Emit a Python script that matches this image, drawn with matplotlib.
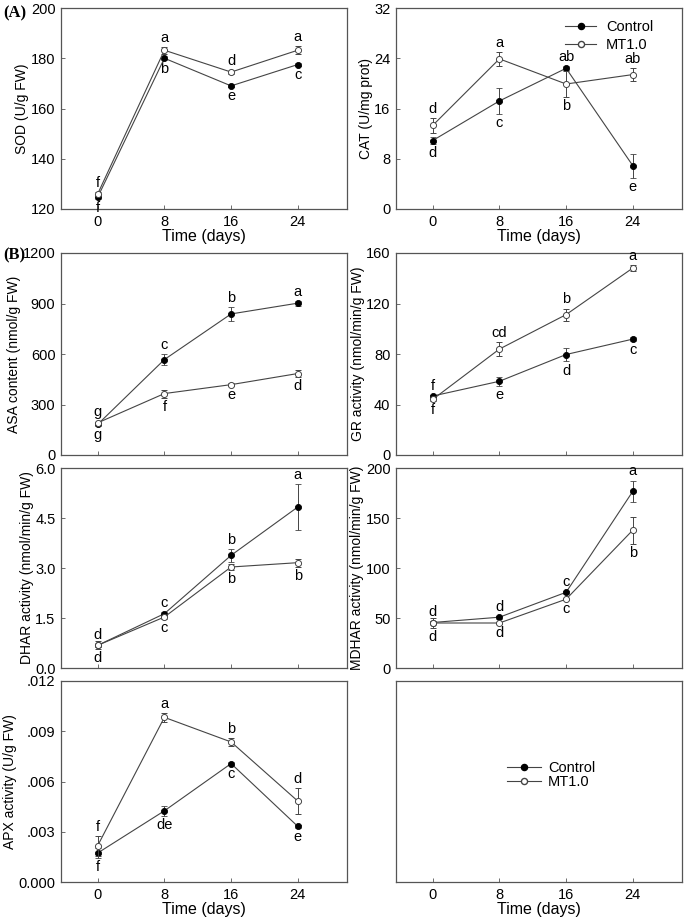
import matplotlib
matplotlib.use("Agg")
import matplotlib.pyplot as plt
from matplotlib.lines import Line2D

plt.rcParams['font.family'] = ['Liberation Sans', 'DejaVu Sans']

days = [0, 8, 16, 24]
xticks = [0, 8, 16, 24]

# SOD
sod_ctrl = [124.7, 180.0, 169.0, 177.5]
sod_ctrl_err = [0.8, 0.8, 0.6, 0.6]
sod_mt = [126.0, 183.2, 174.5, 183.2]
sod_mt_err = [0.8, 1.4, 0.6, 1.5]
sod_ctrl_let = ['f', 'b', 'e', 'c']
sod_mt_let = ['f', 'a', 'd', 'a']

# CAT
cat_ctrl = [10.9, 17.2, 22.4, 6.9]
cat_ctrl_err = [0.6, 2.0, 0.3, 1.9]
cat_mt = [13.3, 23.9, 19.9, 21.4]
cat_mt_err = [1.2, 1.1, 2.0, 1.1]
cat_ctrl_let = ['d', 'c', 'ab', 'e']
cat_mt_let = ['d', 'a', 'b', 'ab']

# ASA
asa_ctrl = [182, 567, 838, 902]
asa_ctrl_err = [8, 32, 39, 14]
asa_mt = [191, 365, 418, 484]
asa_mt_err = [8, 24, 8, 20]
asa_ctrl_let = ['g', 'c', 'b', 'a']
asa_mt_let = ['g', 'f', 'e', 'd']

# GR
gr_ctrl = [46.7, 58.4, 79.6, 91.8]
gr_ctrl_err = [1.0, 3.5, 5.5, 1.5]
gr_mt = [44.0, 83.9, 111.2, 148.1]
gr_mt_err = [1.0, 5.3, 4.8, 2.0]
gr_ctrl_let = ['f', 'e', 'd', 'c']
gr_mt_let = ['f', 'cd', 'b', 'a']

# DHAR
dhar_ctrl = [0.68, 1.63, 3.38, 4.83]
dhar_ctrl_err = [0.05, 0.06, 0.2, 0.7]
dhar_mt = [0.68, 1.53, 3.03, 3.16]
dhar_mt_err = [0.12, 0.05, 0.1, 0.12]
dhar_ctrl_let = ['d', 'c', 'b', 'a']
dhar_mt_let = ['d', 'c', 'b', 'b']

# MDHAR
mdhar_ctrl = [45.5, 50.8, 75.7, 176.7]
mdhar_ctrl_err = [1.5, 1.5, 1.5, 10.8]
mdhar_mt = [45.0, 45.0, 68.8, 137.9]
mdhar_mt_err = [5.0, 1.0, 1.0, 13.6]
mdhar_ctrl_let = ['d', 'd', 'c', 'a']
mdhar_mt_let = ['d', 'd', 'c', 'b']

# APX
apx_ctrl = [0.00173, 0.00425, 0.00707, 0.00332]
apx_ctrl_err = [0.0003, 0.0003, 0.0001, 0.0001]
apx_mt = [0.00217, 0.00983, 0.00836, 0.00483]
apx_mt_err = [0.0006, 0.00027, 0.00025, 0.0008]
apx_ctrl_let = ['f', 'de', 'c', 'e']
apx_mt_let = ['f', 'a', 'b', 'd']

# placement of letters: +1 above, -1 below
place = {
    'sod': ([-1, -1, -1, -1], [1, 1, 1, 1]),
    'cat': ([-1, -1, 1, -1], [1, 1, -1, 1]),
    'asa': ([-1, 1, 1, 1], [1, -1, -1, -1]),
    'gr': ([1, -1, -1, -1], [-1, 1, 1, 1]),
    'dhar': ([1, 1, 1, 1], [-1, -1, -1, -1]),
    'mdhar': ([1, 1, 1, 1], [-1, -1, -1, -1]),
    'apx': ([-1, -1, -1, -1], [1, 1, 1, 1]),
}

W, H = 685, 923
fig = plt.figure(figsize=(W / 100, H / 100), dpi=100)

def ax_at(x0, x1, y0, y1):
    return fig.add_axes([x0 / W, 1 - y1 / H, (x1 - x0) / W, (y1 - y0) / H])

LX = (61, 347)
RX = (396, 682)
rows = [(8, 209), (253, 455), (468, 668), (681, 882)]

spine_c = '#555555'
line_c = '#444444'
FS = 10.5
MS = 4.4

def style(ax, ylim, yticks, ylabels=None, ylabel='', xlabels=True, xlabel=True):
    ax.set_xlim(-4.4, 29.9)
    ax.set_ylim(*ylim)
    ax.set_xticks(xticks)
    ax.set_yticks(yticks)
    if ylabels is not None:
        ax.set_yticklabels(ylabels)
    if not xlabels:
        ax.set_xticklabels([])
    ax.tick_params(direction='in', length=3, width=0.6, colors=spine_c,
                   labelcolor='black', labelsize=FS, pad=4)
    for s in ax.spines.values():
        s.set_color(spine_c)
        s.set_linewidth(0.9)
    if ylabel:
        ax.set_ylabel(ylabel, fontsize=10, labelpad=1)
    if xlabel:
        ax.set_xlabel('Time (days)', fontsize=11.5, labelpad=0)

def plot_pair(ax, c, ce, m, me, cl, ml, key):
    ax.errorbar(days, c, yerr=ce, color=line_c, lw=0.8, marker='o', ms=MS,
                mfc='black', mec='black', mew=0.6, capsize=2.5, elinewidth=0.7,
                capthick=0.7, ecolor=line_c, zorder=3)
    ax.errorbar(days, m, yerr=me, color=line_c, lw=0.8, marker='o', ms=MS,
                mfc='white', mec=line_c, mew=0.7, capsize=2.5, elinewidth=0.7,
                capthick=0.7, ecolor=line_c, zorder=4)
    pc, pm = place[key]
    for vals, errs, lets, pl in ((c, ce, cl, pc), (m, me, ml, pm)):
        for d, v, e, t, p in zip(days, vals, errs, lets, pl):
            if p > 0:
                ax.annotate(t, (d, v + e), xytext=(0, 1.5), textcoords='offset points',
                            ha='center', va='bottom', fontsize=FS)
            else:
                ax.annotate(t, (d, v - e), xytext=(0, -1.5), textcoords='offset points',
                            ha='center', va='top', fontsize=FS)

def handles():
    return [Line2D([], [], color=line_c, lw=0.8, marker='o', ms=MS, mfc='black',
                   mec='black', label='Control'),
            Line2D([], [], color=line_c, lw=0.8, marker='o', ms=MS, mfc='white',
                   mec=line_c, label='MT1.0')]

# (A) SOD
ax = ax_at(*LX, *rows[0])
plot_pair(ax, sod_ctrl, sod_ctrl_err, sod_mt, sod_mt_err, sod_ctrl_let, sod_mt_let, 'sod')
style(ax, (120, 200), [120, 140, 160, 180, 200], ylabel='SOD (U/g FW)')

# CAT
ax = ax_at(*RX, *rows[0])
plot_pair(ax, cat_ctrl, cat_ctrl_err, cat_mt, cat_mt_err, cat_ctrl_let, cat_mt_let, 'cat')
style(ax, (0, 32), [0, 8, 16, 24, 32], ylabel='CAT (U/mg prot)')
ax.legend(handles=handles(), loc='upper right', frameon=False, fontsize=10.5,
          handlelength=2.1, handletextpad=0.7, labelspacing=0.3, borderaxespad=0,
          borderpad=0, bbox_to_anchor=(0.9, 0.94))

# ASA
ax = ax_at(*LX, *rows[1])
plot_pair(ax, asa_ctrl, asa_ctrl_err, asa_mt, asa_mt_err, asa_ctrl_let, asa_mt_let, 'asa')
style(ax, (0, 1200), [0, 300, 600, 900, 1200], ylabel='ASA content (nmol/g FW)',
      xlabels=False, xlabel=False)

# GR
ax = ax_at(*RX, *rows[1])
plot_pair(ax, gr_ctrl, gr_ctrl_err, gr_mt, gr_mt_err, gr_ctrl_let, gr_mt_let, 'gr')
style(ax, (0, 160), [0, 40, 80, 120, 160], ylabel='GR activity (nmol/min/g FW)',
      xlabels=False, xlabel=False)

# DHAR
ax = ax_at(*LX, *rows[2])
plot_pair(ax, dhar_ctrl, dhar_ctrl_err, dhar_mt, dhar_mt_err, dhar_ctrl_let, dhar_mt_let, 'dhar')
style(ax, (0, 6), [0, 1.5, 3.0, 4.5, 6.0], ylabels=['0.0', '1.5', '3.0', '4.5', '6.0'],
      ylabel='DHAR activity (nmol/min/g FW)', xlabels=False, xlabel=False)

# MDHAR
ax = ax_at(*RX, *rows[2])
plot_pair(ax, mdhar_ctrl, mdhar_ctrl_err, mdhar_mt, mdhar_mt_err, mdhar_ctrl_let, mdhar_mt_let, 'mdhar')
style(ax, (0, 200), [0, 50, 100, 150, 200], ylabel='MDHAR activity (nmol/min/g FW)',
      xlabels=False, xlabel=False)

# APX
ax = ax_at(*LX, *rows[3])
plot_pair(ax, apx_ctrl, apx_ctrl_err, apx_mt, apx_mt_err, apx_ctrl_let, apx_mt_let, 'apx')
style(ax, (0, 0.012), [0, 0.003, 0.006, 0.009, 0.012],
      ylabels=['0.000', '.003', '.006', '.009', '.012'], ylabel='APX activity (U/g FW)')

# empty panel with legend
ax = ax_at(*RX, *rows[3])
style(ax, (0, 1), [])
ax.legend(handles=handles(), loc='center', bbox_to_anchor=(0.542, 0.532), frameon=False,
          fontsize=10.5, handlelength=2.3, handletextpad=0.5, labelspacing=0.0)

fig.text(3 / W, 1 - 13 / H, '(A)', fontsize=12, fontweight='bold',
         family=['Liberation Serif', 'DejaVu Serif'], va='center', ha='left')
fig.text(3 / W, 1 - 255 / H, '(B)', fontsize=12, fontweight='bold',
         family=['Liberation Serif', 'DejaVu Serif'], va='center', ha='left')

fig.savefig('out.png', dpi=100)
